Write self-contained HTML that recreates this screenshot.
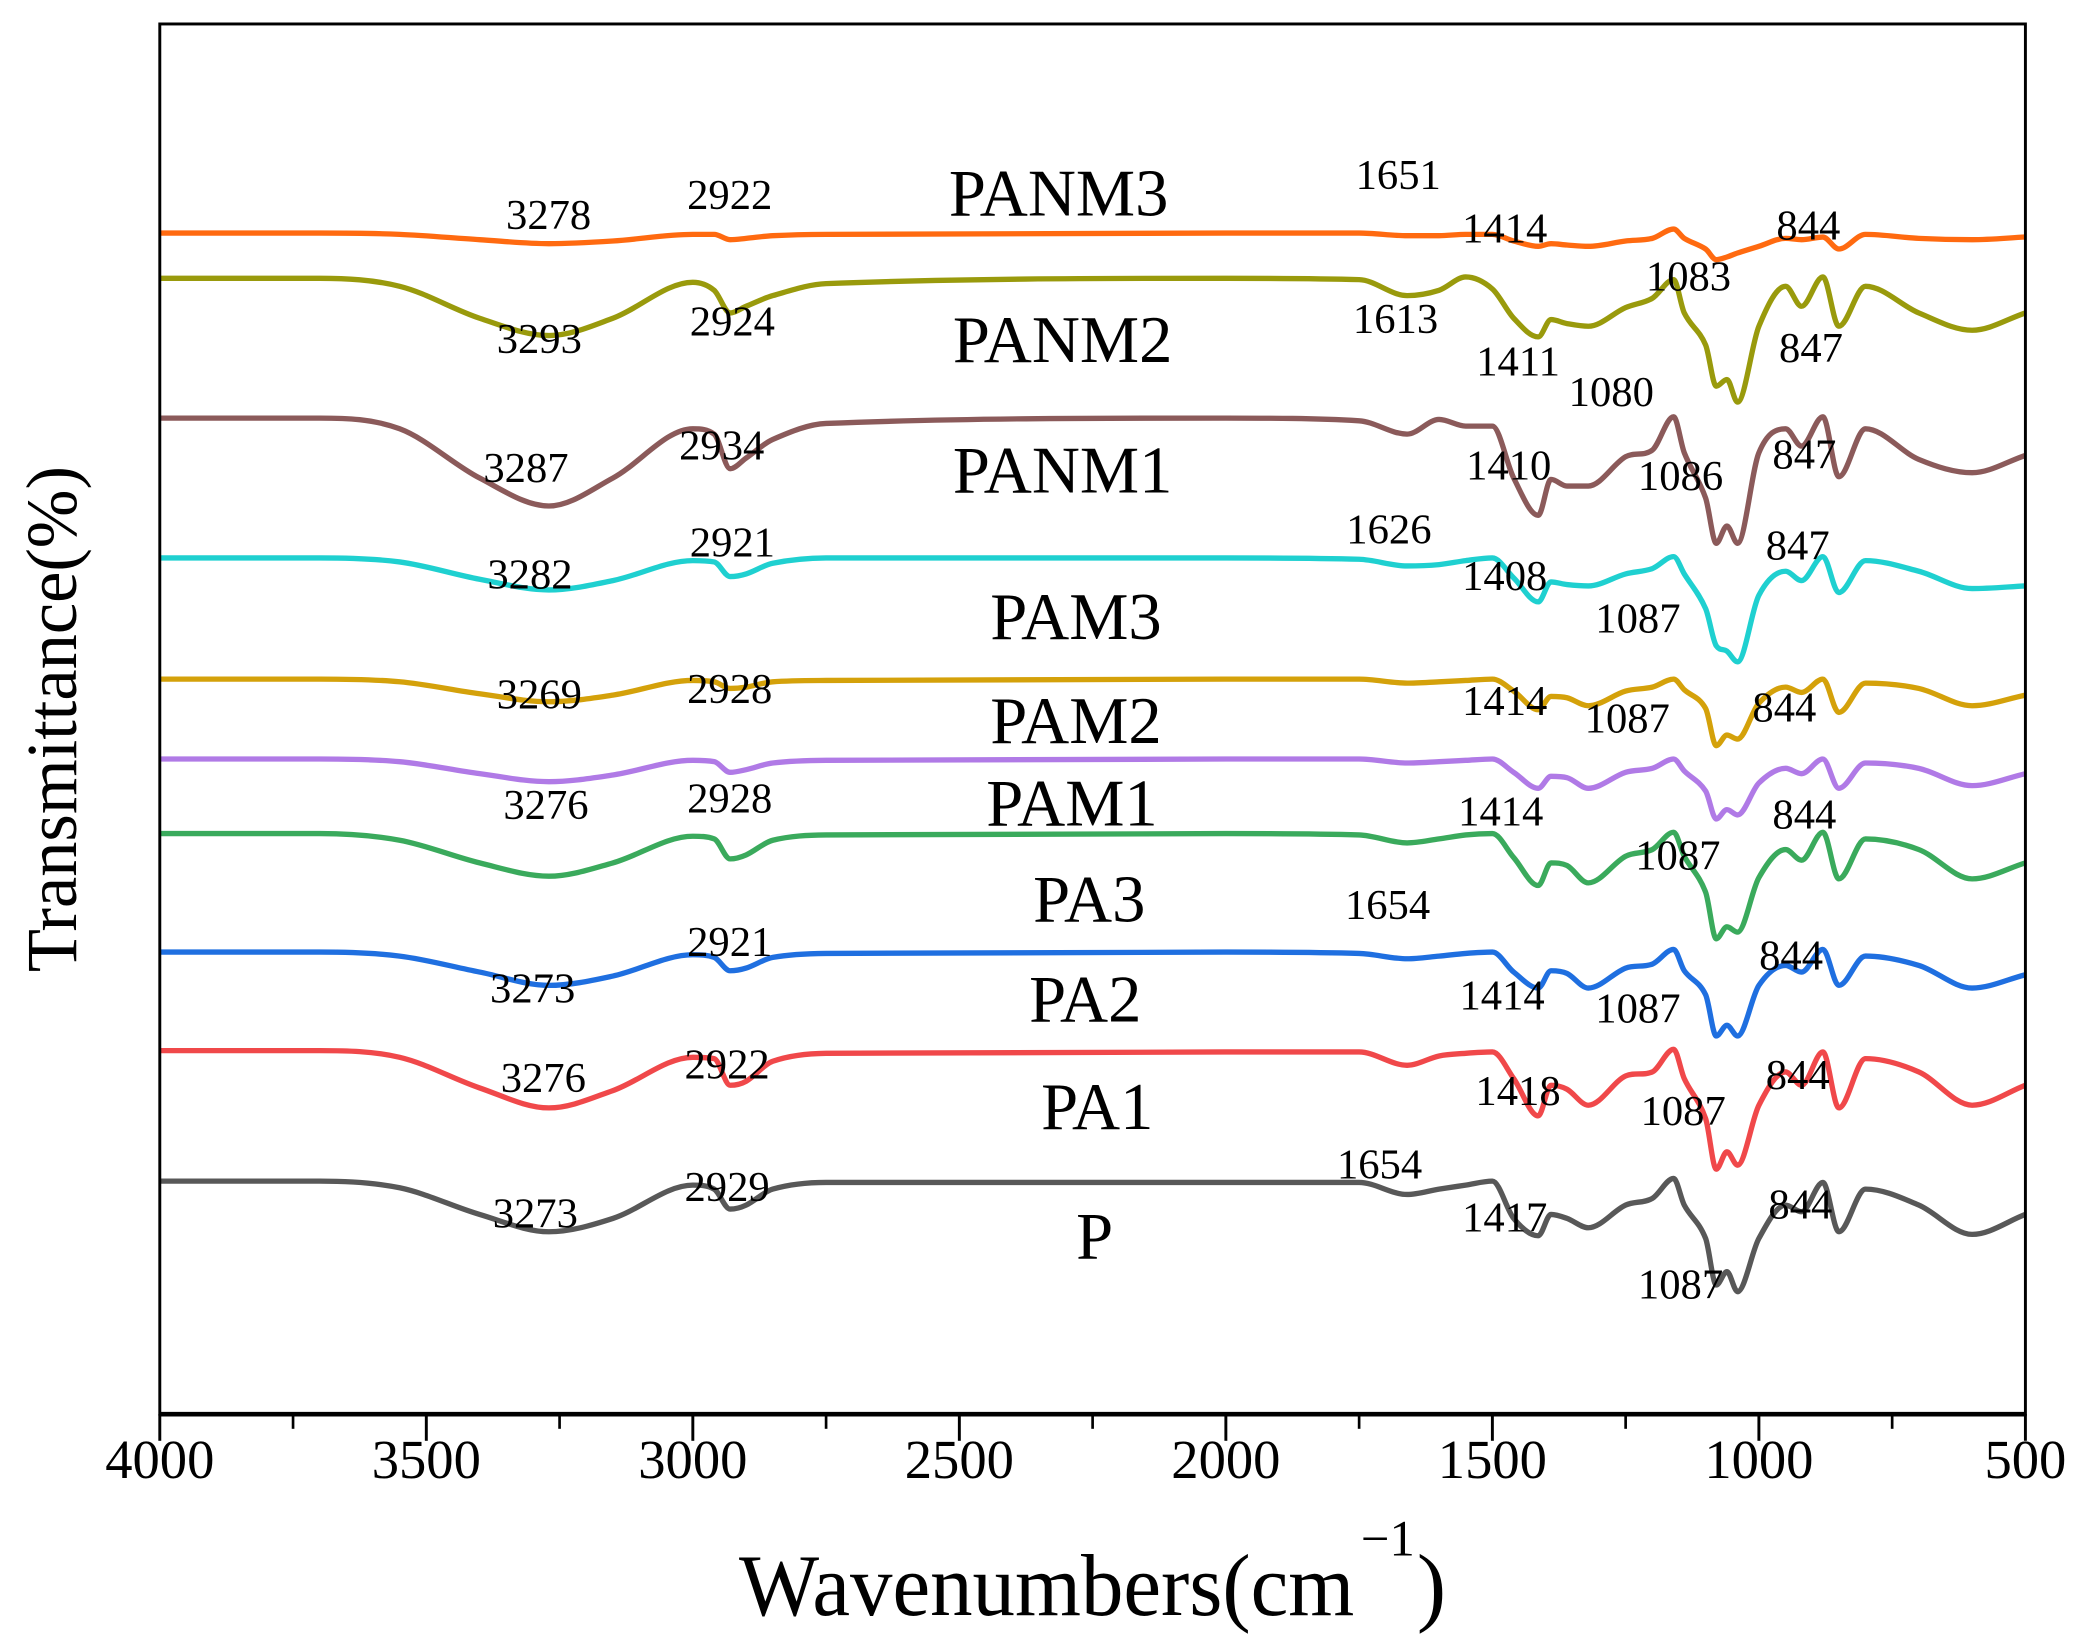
<!DOCTYPE html>
<html><head><meta charset="utf-8"><style>
html,body{margin:0;padding:0;background:#fff;}
svg{display:block;font-family:"Liberation Serif",serif;}
</style></head><body>
<svg id="chart" width="2088" height="1644" viewBox="0 0 1568 1234.6" preserveAspectRatio="none" xmlns="http://www.w3.org/2000/svg">
<g id="series-layer"></g>
<g id="annot-layer"></g>
<g id="axis-layer"></g>
</svg>
<script>
const wavenumbers = [4000,3700,3550,3400,3270,3150,3000,2960,2930,2900,2850,2750,2000,1750,1660,1600,1550,1500,1460,1414,1390,1360,1320,1250,1200,1160,1140,1100,1080,1060,1040,1000,950,920,880,850,800,700,600,500];
const seriesNames = ["P","PA1","PA2","PA3","PAM1","PAM2","PAM3","PANM1","PANM2","PANM3"];
const seriesColors = ["#585858","#f0484a","#1f6fe0","#3aaa5c","#b07ae6","#d4a10a","#1fd0d0","#8b5a5a","#999a0c","#ff6a10"];
const seriesOffsets = [175,273,347,436,492,552,643,748,853,887];
const absP     = [0,0,5,25,38,28,3,6,21,18,6,1,1,1,10,6,3,0,28,41,25,28,35,18,13,-2,18,43,78,68,83,43,18,23,1,38,6,18,40,25];
const absPA1   = [0,0,5,28,43,30,5,6,26,23,8,2,1,1,11,4,2,1,21,49,26,29,41,19,16,-1,21,51,89,76,86,41,16,26,1,43,6,16,41,26];
const absPA2   = [0,0,3,15,25,18,2,4,14,12,4,1,0,1,5,3,1,0,15,27,14,16,27,12,9,-2,14,32,63,55,63,25,10,15,-2,25,3,10,27,17];
const absPA3   = [0,0,5,22,32,22,2,4,19,16,5,1,0,1,7,4,1,0,18,39,22,24,37,17,12,-1,17,44,79,70,74,33,12,20,-1,34,4,12,34,22];
const absPAM1  = [0,0,2,11,17,12,1,2,10,8,3,1,0,0,3,2,1,0,10,22,13,14,22,10,7,0,9,24,45,38,42,18,7,11,0,22,3,7,20,11];
const absPAM2  = [0,0,2,11,17,12,1,2,7,6,2,1,0,0,3,2,1,0,9,23,13,14,20,9,6,0,8,22,50,42,45,18,6,10,0,25,3,7,20,12];
const absPAM3  = [0,0,3,16,24,17,2,3,14,12,4,0,0,1,6,5,2,0,15,33,18,20,21,12,8,-1,12,38,66,70,78,28,10,17,-1,26,2,10,23,21];
const absPANM1 = [0,0,8,45,66,45,8,12,38,30,16,4,0,2,12,1,6,6,45,73,46,51,51,29,24,-1,26,60,94,81,94,26,8,21,-1,44,8,31,41,28];
const absPANM2 = [0,0,6,30,43,30,3,9,26,21,13,4,0,1,13,9,-1,8,30,44,31,34,36,22,15,1,26,50,81,76,93,36,6,21,-1,36,6,26,39,26];
const absPANM3 = [0,0,1,5,8,6,1,1,5,4,2,1,0,0,2,2,1,1,6,10,8,9,10,6,4,-3,4,12,20,18,15,10,4,5,3,12,1,4,5,3];
const seriesAbs = [absP,absPA1,absPA2,absPA3,absPAM1,absPAM2,absPAM3,absPANM1,absPANM2,absPANM3];
const xTicks = [4000,3500,3000,2500,2000,1500,1000,500];
const xMinorTicks = [3750,3250,2750,2250,1750,1250,750];
const nameLabelPos = [[822,945],[824,848],[815,767],[818,692],[805,620],[808,558],[808,480],[798,370],[798,272],[795,162]];
const peakLabels = [
["3278",412,172],["2922",548,157],["1651",1050,142],["1414",1130,182],["844",1358,180],["1083",1268,218],
["3293",405,265],["2924",550,252],["1613",1048,250],["1411",1140,282],["1080",1210,305],["847",1360,272],
["3287",395,362],["2934",542,345],["1410",1133,360],["1086",1262,368],["847",1355,352],
["1626",1043,408],["3282",398,442],["2921",550,418],["1408",1130,443],["1087",1230,475],["847",1350,420],
["3269",405,532],["2928",548,528],["1414",1130,537],["1087",1222,550],["844",1340,542],
["3276",410,615],["2928",548,610],["1414",1127,620],["1087",1260,653],["844",1355,622],
["1654",1042,690],["3273",400,753],["2921",548,718],["1414",1128,758],["1087",1230,768],["844",1345,728],
["3276",408,820],["2922",546,810],["1418",1140,830],["1087",1264,845],["844",1350,818],
["1654",1036,885],["3273",402,922],["2929",546,902],["1417",1130,925],["1087",1262,975],["844",1352,915]
];
const L=120,R=1521,T=18,B=1062;
const NS="http://www.w3.org/2000/svg";
function xScale(w){return L+(4000-w)/3500*(R-L);}
function yScale(t){return B-t/1044*(B-T);}
function mk(tag,attrs,parent){const e=document.createElementNS(NS,tag);for(const k in attrs)e.setAttribute(k,attrs[k]);parent.appendChild(e);return e;}
const sL=document.getElementById('series-layer');
seriesNames.forEach((n,i)=>{
  const pts=wavenumbers.map((w,j)=>[xScale(w),yScale(seriesOffsets[i]-seriesAbs[i][j])]);
  const N=pts.length;
  const m=pts.map((p,j)=>{
    const a=pts[Math.max(0,j-1)],b=pts[Math.min(N-1,j+1)];
    let s=(b[1]-a[1])/(b[0]-a[0]);
    if(j>0&&j<N-1){
      const s1=(p[1]-a[1])/(p[0]-a[0]),s2=(b[1]-p[1])/(b[0]-p[0]);
      if(s1*s2<=0)s=0;
      else{const lim=3*Math.min(Math.abs(s1),Math.abs(s2));if(Math.abs(s)>lim)s=Math.sign(s)*lim;}
    }
    return s;
  });
  let d="M"+pts[0][0]+","+pts[0][1];
  for(let j=0;j<N-1;j++){
    const p1=pts[j],p2=pts[j+1],dx=(p2[0]-p1[0])/3;
    d+=` C${p1[0]+dx},${p1[1]+m[j]*dx} ${p2[0]-dx},${p2[1]-m[j+1]*dx} ${p2[0]},${p2[1]}`;
  }
  const p=mk('path',{d:d,fill:'none',stroke:seriesColors[i],'stroke-width':4,'stroke-linejoin':'round'},sL);
  
  
});
const aL=document.getElementById('annot-layer');
seriesNames.forEach((n,i)=>{
  const t=mk('text',{x:nameLabelPos[i][0],y:nameLabelPos[i][1],'font-size':50,'text-anchor':'middle',fill:'#000'},aL);
  t.textContent=n;
  
  
});
peakLabels.forEach(p=>{
  const t=mk('text',{x:p[1],y:p[2],'font-size':32,'text-anchor':'middle',fill:'#000'},aL);
  t.textContent=p[0];
  
  
});
const xL=document.getElementById('axis-layer');
const frame=mk('rect',{x:L,y:T,width:R-L,height:B-T,fill:'none',stroke:'#000','stroke-width':2.2},xL);


const xa=mk('line',{x1:L,x2:R,y1:B,y2:B,stroke:'#000','stroke-width':3.5},xL);


xTicks.forEach(w=>{
  const tk=mk('line',{x1:xScale(w),x2:xScale(w),y1:B,y2:B+20,stroke:'#000','stroke-width':2.2},xL);
  
  
  const t=mk('text',{x:xScale(w),y:1110,'font-size':41,'text-anchor':'middle',fill:'#000'},xL);
  t.textContent=w;
  
  
});
xMinorTicks.forEach(w=>{
  const tk=mk('line',{x1:xScale(w),x2:xScale(w),y1:B,y2:B+11,stroke:'#000','stroke-width':2},xL);
  
  
});
</script>
<svg style="position:absolute;left:0;top:0;pointer-events:none" width="2088" height="1644" viewBox="0 0 1568 1234.6" preserveAspectRatio="none" xmlns="http://www.w3.org/2000/svg">
<text x="555" y="1213" font-size="66" textLength="462" lengthAdjust="spacingAndGlyphs">Wavenumbers(cm</text>
<text x="1022" y="1168" font-size="38">−1</text>
<text x="1064" y="1213" font-size="66">)</text>
<text transform="translate(57,540) rotate(-90)" text-anchor="middle" font-size="54" textLength="380" lengthAdjust="spacingAndGlyphs">Transmittance(%)</text>
</svg>
</body></html>
